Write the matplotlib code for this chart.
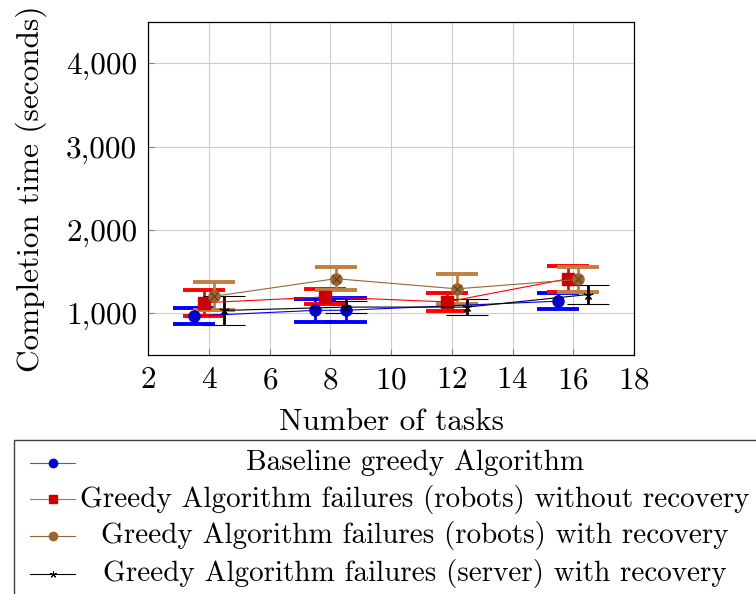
import matplotlib
matplotlib.use("Agg")
import matplotlib.pyplot as plt
from matplotlib.lines import Line2D
from matplotlib.patches import Rectangle
from matplotlib.ticker import FuncFormatter

plt.rcParams["font.family"] = "serif"
plt.rcParams["font.serif"] = ["cmr10"]
plt.rcParams["mathtext.fontset"] = "cm"
plt.rcParams["axes.formatter.use_mathtext"] = True

# data (x already offset per series)
base_x = [3.5, 7.5, 8.5, 15.5]
base_y = [968, 1036, 1037, 1146]
base_err = [100, 137, 142, 99]

norec_x = [3.83, 7.83, 11.83, 15.83]
norec_y = [1127, 1197, 1137, 1415]
norec_err = [159, 90, 110, 157]

rec_x = [4.17, 8.17, 12.17, 16.17]
rec_y = [1205, 1416, 1294, 1407]
rec_err = [170, 140, 179, 149]

srv_x = [4.5, 8.5, 12.5, 16.5]
srv_y = [1035, 1075, 1075, 1226]
srv_err = [170, 75, 92, 111]

labels = [
    "Baseline greedy Algorithm",
    "Greedy Algorithm failures (robots) without recovery",
    "Greedy Algorithm failures (robots) with recovery",
    "Greedy Algorithm failures (server) with recovery",
]

BROWN = (0.75, 0.5, 0.25)
BROWN_DK = (0.6, 0.4, 0.2)
FS = 22.5
LEG_FS = 21

W, H = 756, 594
fig = plt.figure(figsize=(W / 100, H / 100), dpi=100)
ax = fig.add_axes([148.3 / W, 1 - 355 / H, (634 - 148.3) / W, (355 - 21.7) / H])

eb = dict(elinewidth=2, capsize=15, capthick=2.8, lw=0.8, ms=8)
ax.errorbar(base_x, base_y, yerr=base_err, fmt="-o", color="blue",
            mfc=(0, 0, 0.8), mec=(0, 0, 0.8), ecolor="blue", zorder=3, **eb)
ax.errorbar(norec_x, norec_y, yerr=norec_err, fmt="-s", color="red",
            mfc=(0.8, 0, 0), mec=(0.8, 0, 0), ecolor="red", zorder=3, **eb)
ax.errorbar(rec_x, rec_y, yerr=rec_err, fmt="-o", color=BROWN_DK,
            mfc=BROWN_DK, mec=BROWN_DK, ecolor=BROWN, zorder=3, **eb)
ax.plot(rec_x, rec_y, "x", color=(0.35, 0.22, 0.1), ms=5.5, mew=0.7, zorder=4)
ax.errorbar(srv_x, srv_y, yerr=srv_err, fmt="-", marker=(5, 2, 0), color="black",
            ecolor="black", zorder=3, elinewidth=2, capsize=15, capthick=2.8,
            lw=0.8, ms=7, mew=0.8)

ax.set_xlim(2, 18)
ax.set_ylim(500, 4500)
ax.set_xticks(range(2, 19, 2))
ax.set_yticks([1000, 2000, 3000, 4000])
ax.yaxis.set_major_formatter(FuncFormatter(lambda v, p: f"{v:,.0f}"))
ax.grid(True, color="0.8", lw=0.8)
ax.set_axisbelow(True)
ax.tick_params(direction="in", length=4, color="0.5", labelsize=FS, pad=8)
for s in ax.spines.values():
    s.set_linewidth(0.9)
ax.set_xlabel("Number of tasks", fontsize=FS, labelpad=10)
ax.set_ylabel("Completion time (seconds)", fontsize=FS, labelpad=14)

# legend box below the axes, drawn in figure pixels
fig.add_artist(Rectangle((14 / W, -0.05), 1.0, 1 - 440 / H + 0.05,
                         transform=fig.transFigure, fill=False,
                         ec="0.25", lw=1, clip_on=False))
handles = [
    dict(color=(0.3, 0.3, 1), marker="o", mfc=(0, 0, 0.8), mec=(0, 0, 0.8), ms=6),
    dict(color=(1, 0.3, 0.3), marker="s", mfc=(0.8, 0, 0), mec=(0.8, 0, 0), ms=6),
    dict(color=BROWN_DK, marker="o", mfc=BROWN_DK, mec=BROWN_DK, ms=6),
    dict(color="black", marker=(5, 2, 0), ms=5, mew=0.7),
]
rows = [463, 499, 536, 574]
for lab, hd, py in zip(labels, handles, rows):
    fy = 1 - py / H
    fig.add_artist(Line2D([30 / W, 52.5 / W, 75 / W], [fy, fy, fy], lw=0.8,
                          markevery=[1], transform=fig.transFigure, **hd))
    fig.text(415 / W, fy, lab, ha="center", va="center", fontsize=LEG_FS)

fig.savefig("out.png", dpi=100)
